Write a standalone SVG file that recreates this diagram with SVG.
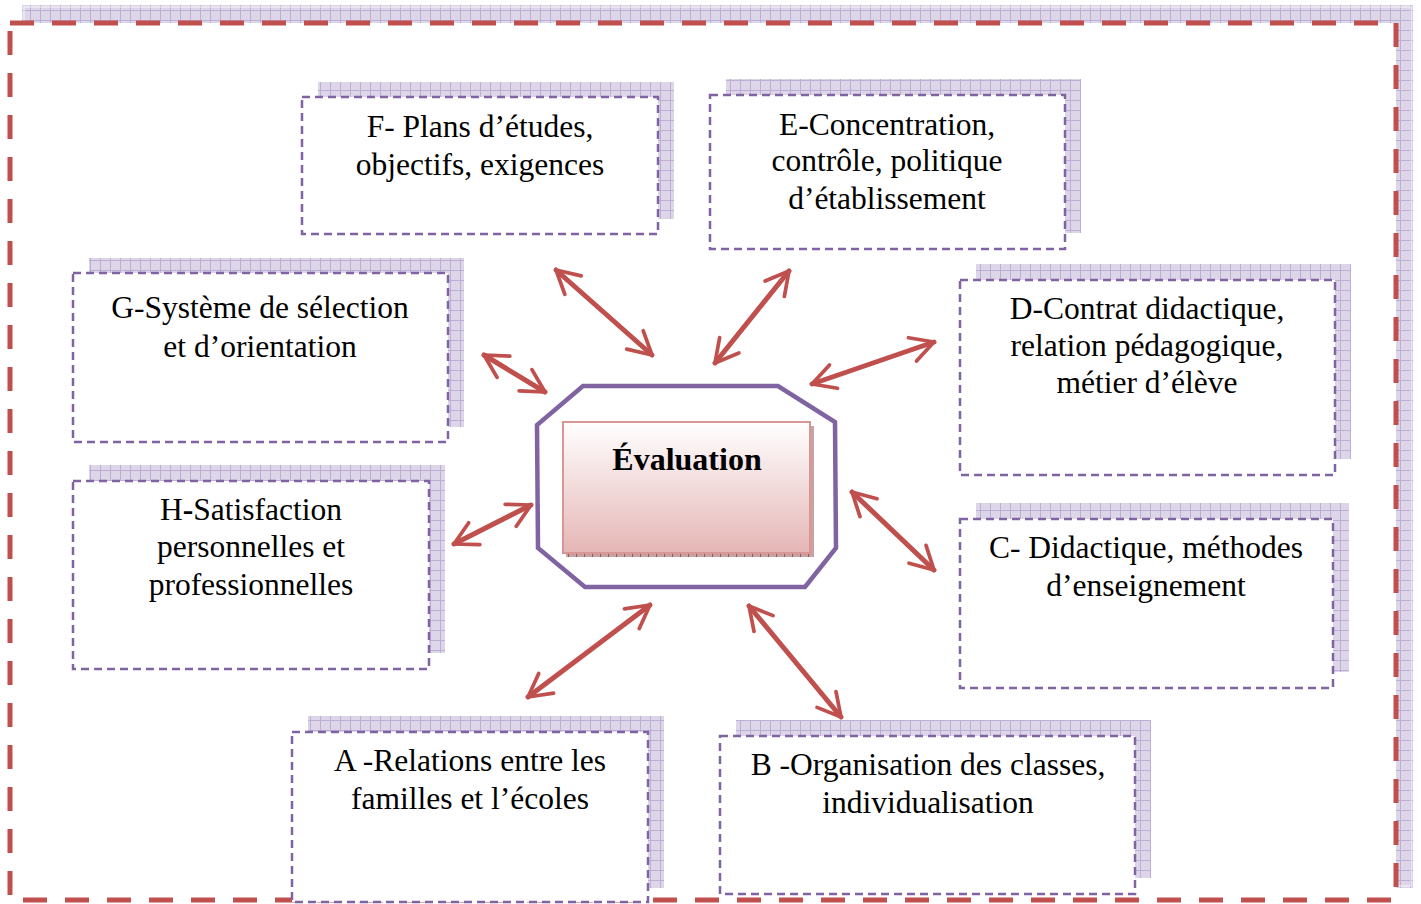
<svg xmlns="http://www.w3.org/2000/svg" width="1421" height="904" viewBox="0 0 1421 904">
<defs>
<pattern id="grid" width="10" height="10" patternUnits="userSpaceOnUse">
<rect width="10" height="10" fill="#ddd6e8"/>
<path d="M0 0.5H10M0.5 0V10" stroke="#bcaed4" stroke-width="1"/>
</pattern>
<pattern id="pgrid" width="8" height="8" patternUnits="userSpaceOnUse">
<rect width="8" height="8" fill="#c9a3a3"/>
<path d="M0.5 0V8" stroke="#8a5d5d" stroke-width="1"/>
</pattern>
<linearGradient id="pink" x1="0" y1="0" x2="0" y2="1">
<stop offset="0" stop-color="#ffffff"/>
<stop offset="1" stop-color="#e5b6b5"/>
</linearGradient>
<marker id="ah" viewBox="0 0 10 10" refX="8.5" refY="5" markerWidth="6.5" markerHeight="6.5" orient="auto-start-reverse" markerUnits="strokeWidth">
<path d="M1.5 1.2L8.5 5L1.5 8.8" fill="none" stroke="#c0504d" stroke-width="1.15" stroke-linecap="round" stroke-linejoin="round"/>
</marker>
</defs>
<style>
.sh{fill:url(#grid)}
.bx{fill:#fff;stroke:#8064a2;stroke-width:2.5;stroke-dasharray:8 5}
.t{font-family:"Liberation Serif","Times New Roman",serif;font-size:31.5px;fill:#000;text-anchor:middle}
.ar{stroke:#c0504d;stroke-width:5;stroke-linecap:round;fill:none;marker-start:url(#ah);marker-end:url(#ah)}
</style>
<rect width="1421" height="904" fill="#fff"/>
<g id="frame">
<rect x="22" y="5" width="1391" height="883" class="sh"/>
<rect x="24" y="7" width="1387" height="879" fill="none" stroke="#fff" stroke-width="1" opacity="0.8"/>
<rect x="10" y="23" width="1386" height="877" fill="#fff" stroke="none"/>
<rect x="10" y="23" width="1386" height="877" fill="none" stroke="#c0504d" stroke-width="5" stroke-dasharray="24 18"/>
</g>
<g id="connectors">
<line class="ar" x1="556" y1="270" x2="652" y2="355"/>
<line class="ar" x1="789" y1="271" x2="715" y2="363"/>
<line class="ar" x1="934" y1="342" x2="812" y2="384"/>
<line class="ar" x1="484" y1="355" x2="545" y2="392"/>
<line class="ar" x1="531" y1="505" x2="454" y2="544"/>
<line class="ar" x1="852" y1="492" x2="934" y2="570"/>
<line class="ar" x1="650" y1="605" x2="528" y2="697"/>
<line class="ar" x1="749" y1="606" x2="841" y2="717"/>
</g>
<g id="center">
<polygon points="583,386 778,386 835,422 836,548 805,587 585,587 538,548 537,425" fill="#fff" stroke="#8064a2" stroke-width="4.5"/>
<rect x="566" y="426" width="248" height="131" fill="url(#pgrid)"/>
<rect x="563" y="422" width="247" height="131" fill="url(#pink)" stroke="#d99694" stroke-width="2"/>
<text x="687" y="470" class="t" style="font-weight:bold;font-size:32px">Évaluation</text>
</g>
<g id="nodeF">
<rect x="318" y="82" width="356" height="137" class="sh"/>
<rect x="302" y="97" width="356" height="137" class="bx"/>
<text class="t" x="480" y="137">F- Plans d’études,</text>
<text class="t" x="480" y="175">objectifs, exigences</text>
</g>
<g id="nodeE">
<rect x="726" y="79" width="355" height="154" class="sh"/>
<rect x="710" y="95" width="355" height="154" class="bx"/>
<text class="t" x="887" y="135">E-Concentration,</text>
<text class="t" x="887" y="171">contrôle, politique</text>
<text class="t" x="887" y="209">d’établissement</text>
</g>
<g id="nodeG">
<rect x="89" y="258" width="375" height="169" class="sh"/>
<rect x="73" y="273" width="375" height="169" class="bx"/>
<text class="t" x="260" y="318">G-Système de sélection</text>
<text class="t" x="260" y="357">et d’orientation</text>
</g>
<g id="nodeD">
<rect x="976" y="264" width="375" height="195" class="sh"/>
<rect x="960" y="280" width="375" height="195" class="bx"/>
<text class="t" x="1147" y="319">D-Contrat didactique,</text>
<text class="t" x="1147" y="356">relation pédagogique,</text>
<text class="t" x="1147" y="393">métier d’élève</text>
</g>
<g id="nodeH">
<rect x="89" y="465" width="356" height="188" class="sh"/>
<rect x="73" y="481" width="356" height="188" class="bx"/>
<text class="t" x="251" y="520">H<tspan font-weight="bold">-</tspan>Satisfaction</text>
<text class="t" x="251" y="557">personnelles et</text>
<text class="t" x="251" y="595">professionnelles</text>
</g>
<g id="nodeC">
<rect x="976" y="503" width="373" height="169" class="sh"/>
<rect x="960" y="519" width="373" height="169" class="bx"/>
<text class="t" x="1146" y="558">C- Didactique, méthodes</text>
<text class="t" x="1146" y="596">d’enseignement</text>
</g>
<g id="nodeA">
<rect x="308" y="716" width="356" height="172" class="sh"/>
<rect x="292" y="732" width="356" height="170" class="bx"/>
<text class="t" x="470" y="771">A -Relations entre les</text>
<text class="t" x="470" y="809">familles et l’écoles</text>
</g>
<g id="nodeB">
<rect x="736" y="720" width="415" height="158" class="sh"/>
<rect x="720" y="736" width="415" height="158" class="bx"/>
<text class="t" x="928" y="775">B -Organisation des classes,</text>
<text class="t" x="928" y="813">individualisation</text>
</g>
</svg>
